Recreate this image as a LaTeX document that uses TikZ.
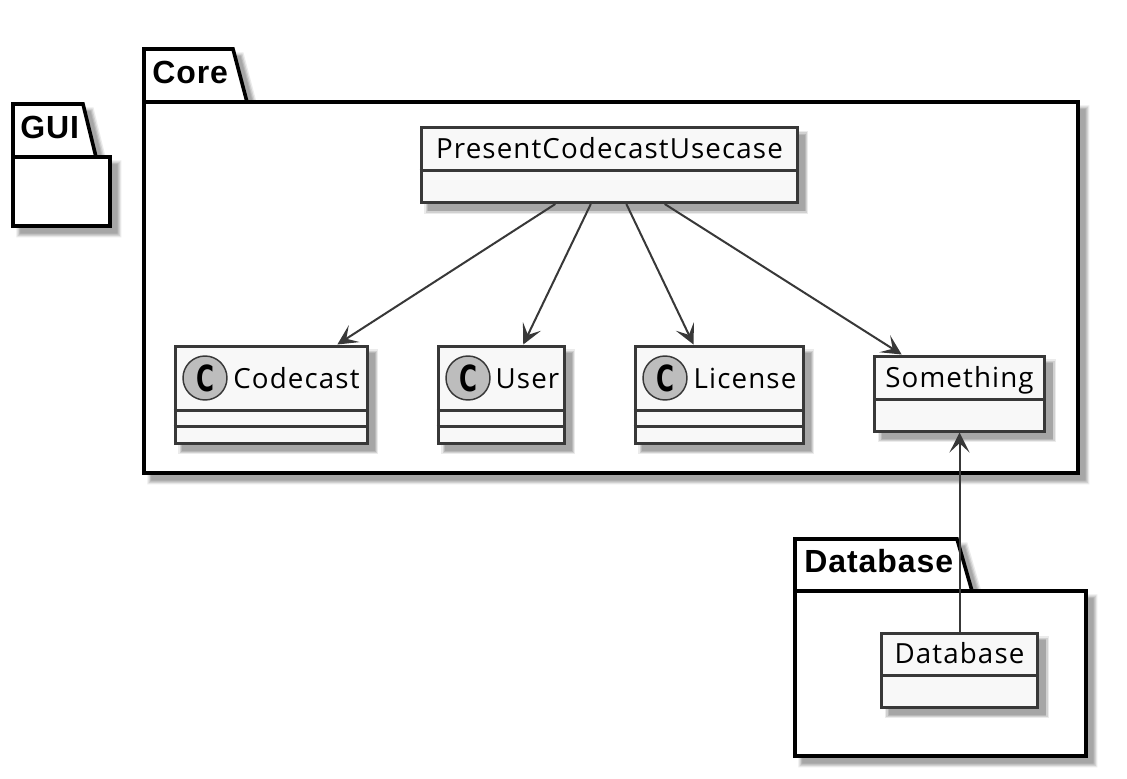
\documentclass[tikz,border=0pt]{standalone}
\usepackage{fontspec}
\usetikzlibrary{arrows.meta}
\newfontfamily\classfont[LetterSpace=4]{Open Sans}
\newfontfamily\pkgfont[LetterSpace=3]{Liberation Sans Bold}
\newfontfamily\spotfont{DejaVu Sans Bold}
\definecolor{umlline}{HTML}{383838}
\definecolor{umlfill}{HTML}{F8F8F8}
\definecolor{umlspot}{HTML}{BDBDBD}
\tikzset{
  softshadow/.style={
    preaction={draw=black!8,fill=black!8,line width=6pt,transform canvas={shift={(5.5pt,-5.5pt)}}},
    preaction={draw=black!18,fill=black!18,line width=4pt,transform canvas={shift={(5.5pt,-5.5pt)}}},
    preaction={draw=black!28,fill=black!28,line width=2pt,transform canvas={shift={(5.5pt,-5.5pt)}}},
    preaction={draw=black!35,fill=black!35,line width=.2pt,transform canvas={shift={(5.5pt,-5.5pt)}}}},
  pkgbox/.style={draw=black,fill=white,line width=2.7pt,line join=miter,softshadow},
  pkgline/.style={draw=black,line width=2.7pt},
  pkgname/.style={anchor=base west,inner sep=0pt,font=\pkgfont\fontsize{24}{26}\selectfont},
  classbox/.style={draw=umlline,fill=umlfill,line width=2.25pt,inner sep=0pt,softshadow},
  classline/.style={draw=umlline,line width=2.25pt},
  classname/.style={anchor=base,inner sep=0pt,font=\classfont\fontsize{20.8}{24}\selectfont,text=black},
  spotc/.style={circle,draw=umlline,fill=umlspot,line width=1.1pt,minimum size=33pt,inner sep=0pt},
  spotletter/.style={inner sep=0pt,xscale=.68,font=\spotfont\fontsize{27}{28}\selectfont},
  conn/.style={draw=umlline,line width=1.5pt,-{Stealth[length=15pt,width=15pt,inset=7pt]}},
}
\begin{document}
\begin{tikzpicture}[x=.75pt,y=-.75pt]
\useasboundingbox (0,0) rectangle (1127,778);
% packages
\draw[pkgbox] (13,104)--(83,104)--(96,157)--(110,157)--(110,226)--(13,226)--cycle;
\draw[pkgline] (13,157)--(96,157);
\node[pkgname] (guilabel) at (20,138) {GUI};
\draw[pkgbox] (144,49)--(233,49)--(247,102)--(1078,102)--(1078,473)--(144,473)--cycle;
\draw[pkgline] (144,102)--(247,102);
\node[pkgname] (corelabel) at (152,83) {Core};
\draw[pkgbox] (795,539)--(957,539)--(972,591)--(1086,591)--(1086,756)--(795,756)--cycle;
\draw[pkgline] (795,591)--(972,591);
\node[pkgname] (dblabel) at (804,572) {Database};
% classes
\node[classbox,minimum width=282pt,minimum height=56.25pt] (usecase) at (609,165) {};
\draw[classline] (usecase.west |- 0,170)--(usecase.east |- 0,170);
\node[classname] (usecasetext) at (609.5,158) {PresentCodecastUsecase};
\node[classbox,minimum width=144pt,minimum height=72.75pt] (codecast) at (271,394.5) {};
\draw[classline] (codecast.west |- 0,410)--(codecast.east |- 0,410);
\draw[classline] (codecast.west |- 0,426)--(codecast.east |- 0,426);
\node[spotc] (codecastspot) at (205,378) {};
\node[spotletter] at (codecastspot) {C};
\node[classname] (codecasttext) at (296.5,388) {Codecast};
\node[classbox,minimum width=94.5pt,minimum height=72.75pt] (user) at (501,394.5) {};
\draw[classline] (user.west |- 0,410)--(user.east |- 0,410);
\draw[classline] (user.west |- 0,426)--(user.east |- 0,426);
\node[spotc] (userspot) at (468,378) {};
\node[spotletter] at (userspot) {C};
\node[classname] (usertext) at (527.5,388) {User};
\node[classbox,minimum width=126pt,minimum height=72.75pt] (license) at (719,394.5) {};
\draw[classline] (license.west |- 0,410)--(license.east |- 0,410);
\draw[classline] (license.west |- 0,426)--(license.east |- 0,426);
\node[spotc] (licensespot) at (665,378) {};
\node[spotletter] at (licensespot) {C};
\node[classname] (licensetext) at (745,388) {License};
\node[classbox,minimum width=127.5pt,minimum height=56.25pt] (something) at (959.5,393.5) {};
\draw[classline] (something.west |- 0,399)--(something.east |- 0,399);
\node[classname] (somethingtext) at (959.5,387) {Something};
\node[classbox,minimum width=117pt,minimum height=55.5pt] (database) at (959.5,670) {};
\draw[classline] (database.west |- 0,675)--(database.east |- 0,675);
\node[classname] (databasetext) at (959.5,663) {Database};
% connectors
\draw[conn] (usecase.216.5)--(codecast.37.1);
\draw[conn] (usecase.245.3)--(user.66.1);
\draw[conn] (usecase.294.7)--(license.117.7);
\draw[conn] (usecase.325.6)--(something.146.7);
\draw[conn] (database.north)--(something.south);
\end{tikzpicture}
\end{document}
